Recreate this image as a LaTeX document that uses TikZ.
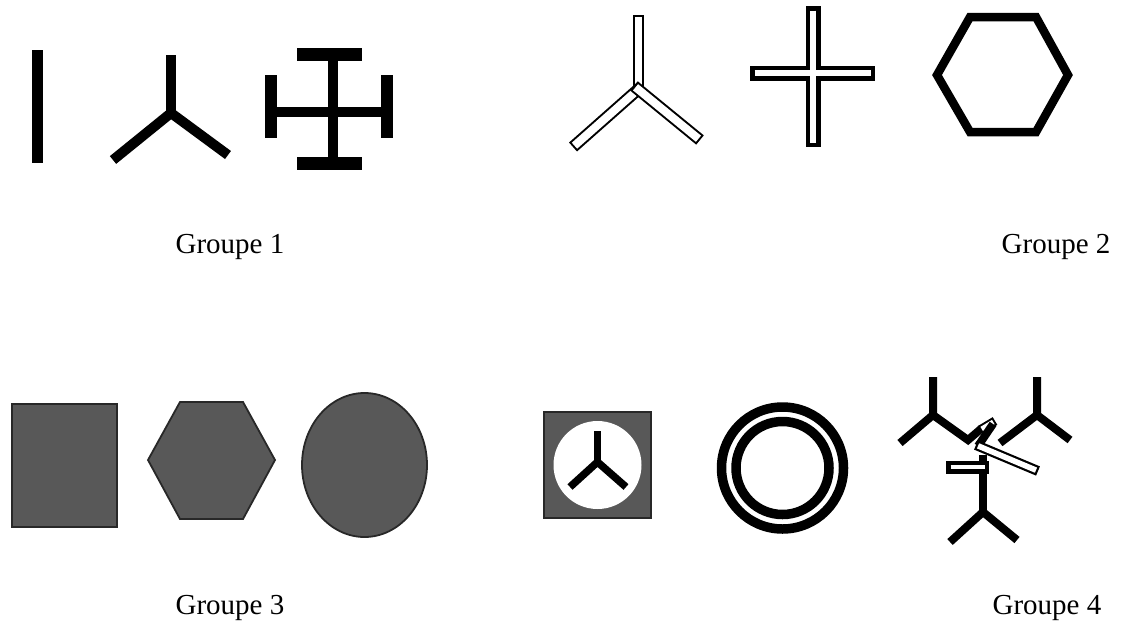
\documentclass[tikz,border=0pt]{standalone}
\usepackage{fontspec}
\setmainfont{Liberation Serif}
\usetikzlibrary{calc}
\definecolor{slate}{RGB}{88,88,88}
\definecolor{coal}{RGB}{40,40,40}
\tikzset{
  bold line/.style={line width=#1,line cap=butt,line join=miter},
  bold line/.default=10pt,
  solid shape/.style={fill=slate,draw=coal,line width=1.8pt},
  caption/.style={font=\fontsize{29}{34}\selectfont,inner sep=0pt},
}
% hollow bar: from, to, outer width, stroke
\newcommand{\hollowbar}[4]{%
  \draw[line width=#3] #1 -- #2;
  \draw[white,line width=#3-2*#4,shorten <=#4,shorten >=#4] #1 -- #2;}

\begin{document}
\begin{tikzpicture}[x=1pt,y=-1pt]
  \useasboundingbox (0,0) rectangle (1126,627);

  % group 1
  \draw[bold line=11pt] (37.5,50) -- (37.5,163);
  \draw[bold line] (171,55) -- (171,113);
  \draw[bold line] (113,160) -- (171,113) -- (228,155);
  \draw[bold line] (333,48) -- (333,168) (267,112) -- (392,112);
  \draw[bold line=13pt] (297,54) -- (362,54) (297,163) -- (362,163);
  \draw[bold line=12pt] (271,75) -- (271,138) (386.5,75) -- (386.5,138);
  \node[caption] (g1) at (230,247) {Groupe 1};

  % group 2
  \hollowbar{(638,15)}{(638,90)}{11pt}{2pt}
  \hollowbar{(642,86)}{(573,147)}{12pt}{2pt}
  \hollowbar{(634,86)}{(700,140)}{12pt}{2pt}
  \draw[line width=15pt] (813,6) -- (813,147) (750,73) -- (875,73);
  \draw[white,line width=6.5pt] (813,10.5) -- (813,142.5) (754.5,73) -- (870.5,73);
  \draw[bold line=8.5pt] (937,75) -- (970,17) -- (1036,17) -- (1068,75) -- (1036,132) -- (970,132) -- cycle;
  \node[caption] (g2) at (1056,247) {Groupe 2};

  % group 3
  \draw[solid shape] (12,404) rectangle (117,527);
  \draw[solid shape] (148,460) -- (180,402) -- (243,402) -- (275,460) -- (243,519) -- (180,519) -- cycle;
  \draw[solid shape] (364.5,465) ellipse [x radius=62.5pt,y radius=72pt];
  \node[caption] (g3) at (230,608) {Groupe 3};

  % group 4
  \draw[solid shape] (544,412) rectangle (651,518);
  \fill[white] (597.5,465) circle (44pt);
  \draw[bold line=7.5pt] (597.5,431) -- (597.5,462);
  \draw[bold line=7.5pt] (570,487) -- (597.5,462) -- (626,487);
  \draw[line width=9.5pt] (782.5,468) circle (61pt) circle (46.5pt);
  \draw[bold line=8pt] (933,377) -- (933,415) (900,443) -- (933,415) -- (968,440) -- (982,428);
  \draw[bold line=8pt] (1037,377) -- (1037,415) (1070,440) -- (1037,415) -- (1000,443);
  \hollowbar{(980,430)}{(995,421)}{9pt}{2pt}
  \draw[bold line=8pt] (993,424) -- (978,446);
  \hollowbar{(976,445)}{(1038,471)}{10pt}{2.2pt}
  \draw[bold line=8pt] (983,455) -- (983,512);
  \draw[bold line=8pt] (950,542) -- (983,512) -- (1017,540);
  \hollowbar{(946,467)}{(989,467)}{13pt}{4.5pt}
  \node[caption] (g4) at (1047,608) {Groupe 4};
\end{tikzpicture}
\end{document}
